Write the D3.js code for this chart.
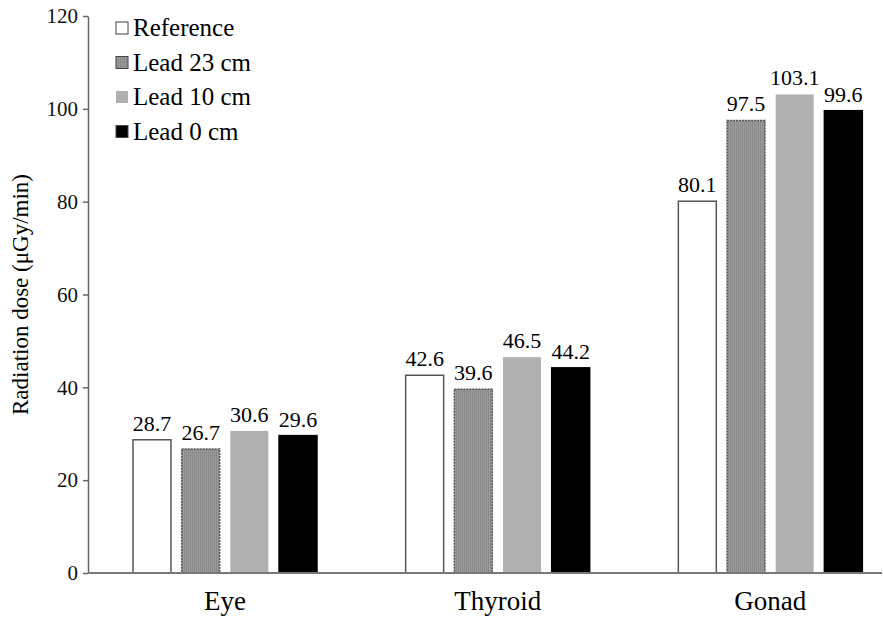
<!DOCTYPE html>
<html><head><meta charset="utf-8">
<script src="https://cdn.jsdelivr.net/npm/d3@7"></script>
</head><body><svg id="c" width="883" height="617" style="position:absolute;left:0;top:0"></svg>
<script>
const categories = ["Eye", "Thyroid", "Gonad"];
const seriesNames = ["Reference", "Lead 23 cm", "Lead 10 cm", "Lead 0 cm"];
const reference = [28.7, 42.6, 80.1];
const lead23 = [26.7, 39.6, 97.5];
const lead10 = [30.6, 46.5, 103.1];
const lead0 = [29.6, 44.2, 99.6];
const yTicks = [0, 20, 40, 60, 80, 100, 120];
const yLabel = "Radiation dose (μGy/min)";

const FONT = "'Times New Roman'";
const seriesValues = [reference, lead23, lead10, lead0];
const fills = ["#ffffff", "url(#dots)", "#b0b0b0", "#000000"];
const strokes = ["#555", "#555", "none", "#000"];
const dashes = [null, "2,1", null, null];

const svg = d3.select("#c");
const defs = svg.append("defs");
const pat = defs.append("pattern").attr("id","dots").attr("patternUnits","userSpaceOnUse").attr("width",2).attr("height",2);
pat.append("rect").attr("width",2).attr("height",2).attr("fill","#9a9a9a");
pat.append("rect").attr("width",1).attr("height",2).attr("fill","#8a8a8a");

const mLeft = 88, mRight = 882, mTop = 16, mBottom = 573;
const y = d3.scaleLinear().domain([0,120]).range([mBottom, mTop]);
const x0 = d3.scaleBand().domain(categories).range([89, 907]);
const x1 = d3.scaleBand().domain(seriesNames).range([44, 228]).paddingInner(0.22).paddingOuter(0);

function txt(sel, size) {
  return sel.style("font-family", FONT).style("font-size", size + "px");
}

// y axis
const ya = svg.append("g").attr("transform",`translate(${mLeft},0)`)
  .call(d3.axisLeft(y).tickValues(yTicks).tickSize(5).tickSizeOuter(0));
ya.attr("font-family", null).attr("font-size", null);
ya.select(".domain").attr("stroke","#666").attr("stroke-width",1.5);
ya.selectAll(".tick line").attr("stroke","#666").attr("stroke-width",1.5);
txt(ya.selectAll(".tick text").attr("x",-10).attr("fill","#111"), 21);

// bars
categories.forEach((c, ci) => {
  seriesNames.forEach((s, si) => {
    const v = seriesValues[si][ci];
    const bx = x0(c) + x1(s);
    svg.append("rect").attr("x", bx).attr("y", y(v))
      .attr("width", x1.bandwidth()).attr("height", y(0) - y(v))
      .attr("fill", fills[si]).attr("stroke", strokes[si])
      .attr("stroke-width", 1.5).attr("stroke-dasharray", dashes[si]);
    txt(svg.append("text").attr("x", bx + x1.bandwidth()/2).attr("y", y(v) - 9)
      .attr("text-anchor","middle"), 22).text(v.toFixed(1));
  });
});

// x axis line
svg.append("line").attr("x1",mLeft).attr("x2",mRight).attr("y1",y(0)).attr("y2",y(0))
  .attr("stroke","#777").attr("stroke-width",2);
categories.forEach(c => {
  txt(svg.append("text").attr("x", x0(c) + x1("Reference") + (x1("Lead 0 cm") + x1.bandwidth() - x1("Reference"))/2)
    .attr("y", 610).attr("text-anchor","middle"), 27).text(c);
});

// y label
txt(svg.append("text").attr("transform",`translate(28,${(mTop+mBottom)/2}) rotate(-90)`)
  .attr("text-anchor","middle"), 23).text(yLabel);

// legend
seriesNames.forEach((s, i) => {
  const ly = 22 + i*34.5;
  svg.append("rect").attr("x",116).attr("y",ly).attr("width",12).attr("height",12)
    .attr("fill",fills[i]).attr("stroke", i===2 ? "none" : "#444").attr("stroke-width",1);
  txt(svg.append("text").attr("x",133).attr("y",ly+14), 25).text(s);
});
</script></body></html>
